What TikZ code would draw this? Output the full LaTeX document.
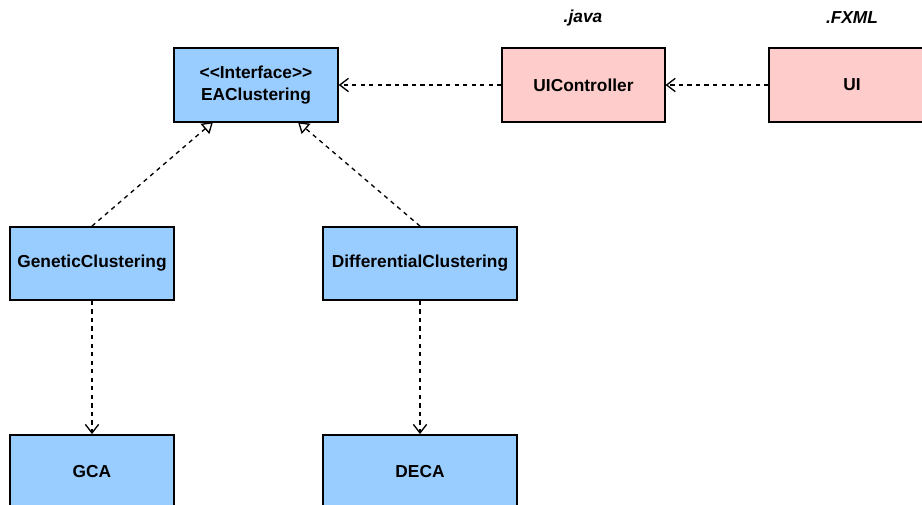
\documentclass[tikz,border=0pt]{standalone}
\usepackage{fontspec}
\setmainfont{Liberation Sans}
\usetikzlibrary{arrows.meta}
\definecolor{bluefill}{HTML}{99CCFF}
\definecolor{pinkfill}{HTML}{FFCCCC}
\begin{document}
\begin{tikzpicture}[x=0.75pt,y=-0.75pt,
  txt/.style={font=\fontsize{13}{16}\selectfont\bfseries, align=center},
  cls/.style={txt, draw=black, line width=1.1pt, fill=bluefill, inner sep=0pt},
  ui/.style={cls, fill=pinkfill},
  dep/.style={dash pattern=on 3.2pt off 3.2pt, line width=1pt, -{Straight Barb[length=6.5pt,width=10pt,line width=1pt]}},
  gen/.style={dash pattern=on 3.2pt off 3.2pt, line width=1pt, -{Triangle[open,length=8pt,width=10pt,line width=1pt,fill=white]}},
  lbl/.style={font=\fontsize{13}{16}\selectfont\bfseries\itshape}
]
\clip (0,0) rectangle (922,505);
\fill[white] (0,0) rectangle (922,505);
\node[cls, minimum width=123pt, minimum height=55.5pt] (ea) at (256,85) {{<}{<}Interface{>}{>}\\EAClustering};
\node[ui, minimum width=122pt, minimum height=55.5pt] (uic) at (583.5,85) {UIController};
\node[ui, minimum width=122pt, minimum height=55.5pt] (ui) at (850.5,85) {};
\node[txt] (uit) at (852,85) {UI};
\node[cls, minimum width=123pt, minimum height=55pt] (gc) at (92,263.5) {GeneticClustering};
\node[cls, minimum width=145.5pt, minimum height=55pt] (dc) at (420,263.5) {DifferentialClustering};
\node[cls, minimum width=123pt, minimum height=55pt] (gca) at (92,471.5) {};
\node[txt] (gcat) at (92,471.5) {GCA};
\node[cls, minimum width=145.5pt, minimum height=55pt] (deca) at (420,471.5) {};
\node[txt] (decat) at (420,471.5) {DECA};
\node[lbl] (java) at (583,18) {.java};
\node[lbl] (fxml) at (852,18) {.FXML};
\coordinate (eaL) at (213,122);
\coordinate (eaR) at (298,122);
\draw[gen] (gc.north) -- (eaL);
\draw[gen] (dc.north) -- (eaR);
\draw[dep] (uic.west) -- (ea.east);
\draw[dep] (ui.west) -- (uic.east);
\draw[dep] (gc.south) -- (gca.north);
\draw[dep] (dc.south) -- (deca.north);
\end{tikzpicture}
\end{document}
